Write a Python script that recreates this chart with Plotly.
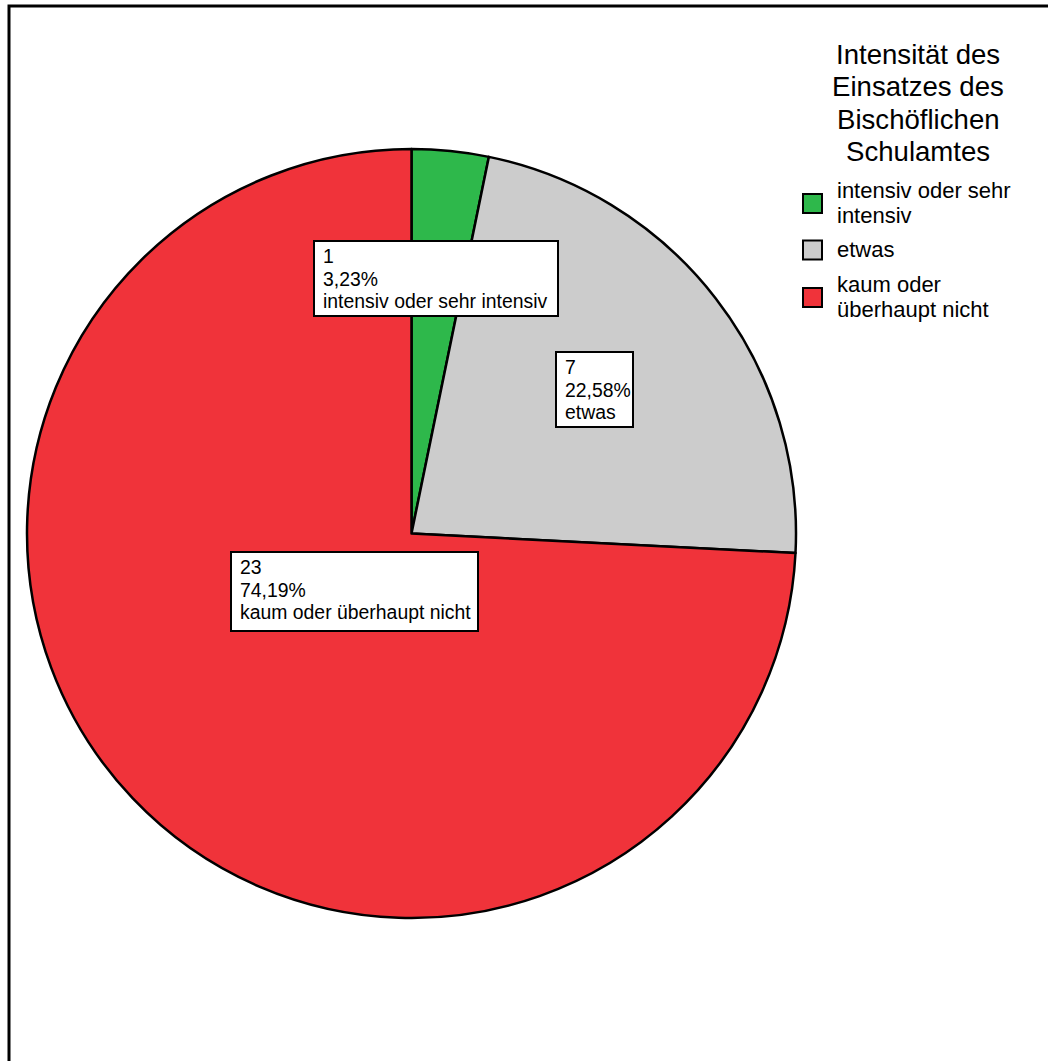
import textwrap
import plotly.graph_objects as go

# Survey answers: how intensively the diocesan school office was involved
categories = ["intensiv oder sehr intensiv", "etwas", "kaum oder überhaupt nicht"]
counts = [1, 7, 23]
colors = ["#2EB84B", "#CCCCCC", "#F0333A"]
legend_title = ["Intensität des", "Einsatzes des", "Bischöflichen", "Schulamtes"]

W, H = 1048, 1061
FONT = "Liberation Sans, Arial, Helvetica, sans-serif"


def px(x):
    return x / W


def py(y):
    return 1 - y / H


def text_line(txt, x, baseline, size, anchor="left"):
    # place one line of text so that its baseline sits at the given pixel row
    return dict(
        text=txt, xref="paper", yref="paper", x=px(x), y=py(baseline - 0.35 * size),
        xanchor=anchor, yanchor="middle", showarrow=False, borderpad=0,
        font=dict(family=FONT, size=size, color="black"),
    )


# pie centre and radius in pixels
cx, cy, r = 411.5, 533.5, 384.5

fig = go.Figure(
    go.Pie(
        labels=categories,
        values=counts,
        marker=dict(colors=colors, line=dict(color="black", width=2.5)),
        sort=False,
        direction="clockwise",
        rotation=0,
        textinfo="none",
        hoverinfo="none",
        showlegend=False,
        domain=dict(x=[px(cx - r), px(cx + r)], y=[py(cy + r), py(cy - r)]),
    )
)

shapes = []
annotations = []

# outer frame
shapes.append(dict(type="rect", xref="paper", yref="paper",
                   x0=px(9), x1=px(W + 20), y0=py(H + 20), y1=py(6),
                   line=dict(color="black", width=3), fillcolor="rgba(0,0,0,0)"))

# value label boxes: count, percentage, category
total = sum(counts)
label_boxes = [(314, 241, 558, 316), (556, 352, 633, 427), (231, 552, 478, 631)]
for cat, n, (x0, y0, x1, y1) in zip(categories, counts, label_boxes):
    pct = f"{100 * n / total:.2f}".replace(".", ",") + "%"
    shapes.append(dict(type="rect", xref="paper", yref="paper", layer="above",
                       x0=px(x0), x1=px(x1), y0=py(y1), y1=py(y0),
                       line=dict(color="black", width=2), fillcolor="white"))
    for i, line in enumerate([str(n), pct, cat]):
        annotations.append(text_line(line, x0 + 8, y0 + 22 + 22.5 * i, 19.4))

# legend title
for i, line in enumerate(legend_title):
    annotations.append(text_line(line, 918, 64 + 32.5 * i, 27.6, anchor="center"))

# legend entries
item_baselines = [198, 257, 292]
for cat, col, b0 in zip(categories, colors, item_baselines):
    lines = textwrap.wrap(cat, 18)
    for i, line in enumerate(lines):
        annotations.append(text_line(line, 836, b0 + 25 * i, 22))
    mid = b0 + 25 * (len(lines) - 1) / 2 - 7
    shapes.append(dict(type="rect", xref="paper", yref="paper",
                       x0=px(803), x1=px(822), y0=py(mid + 9.5), y1=py(mid - 9.5),
                       line=dict(color="black", width=2), fillcolor=col))

fig.update_layout(
    width=W, height=H,
    margin=dict(l=0, r=0, t=0, b=0),
    paper_bgcolor="white", plot_bgcolor="white",
    shapes=shapes, annotations=annotations,
    font=dict(family=FONT),
)

fig.write_html("out.html")
